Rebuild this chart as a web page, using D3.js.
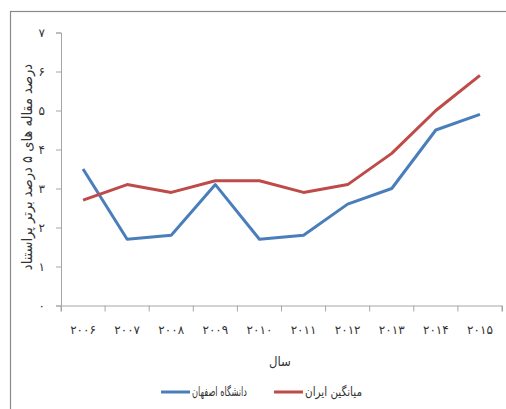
<!DOCTYPE html>
<html><head><meta charset="utf-8">
<script src="https://cdn.jsdelivr.net/npm/d3@7"></script>
<style>
html,body{margin:0;padding:0;background:#fff;}
text{font-family:"Liberation Sans","DejaVu Sans",sans-serif;fill:#333;}
.fa{font-family:"DejaVu Sans Condensed","DejaVu Sans",sans-serif;}
</style></head>
<body><svg id="c" width="506" height="409"></svg>
<script>
const years = ["2006","2007","2008","2009","2010","2011","2012","2013","2014","2015"];
const isfahan = [3.5,1.7,1.8,3.1,1.7,1.8,2.6,3.0,4.5,4.9];
const iranAvg = [2.7,3.1,2.9,3.2,3.2,2.9,3.1,3.9,5.0,5.9];
const yTicks = [0,1,2,3,4,5,6,7];
const seriesNames = ["دانشگاه اصفهان","میانگین ایران"];
const seriesColors = ["#4a7ebb","#be4b48"];
const yTitle = "درصد مقاله های ۵ درصد برتر پراستناد";
const xTitle = "سال";

const fa = s => String(s).replace(/[0-9]/g, d => "۰۱۲۳۴۵۶۷۸۹"[d]);

const svg = d3.select("#c");
svg.append("rect").attr("x",10.5).attr("y",11.5).attr("width",520).attr("height",420)
  .attr("fill","none").attr("stroke","#8a8a8a").attr("stroke-width",1.2);

const x = d3.scaleBand().domain(years).range([61,502]);
const y = d3.scaleLinear().domain([0,7]).range([305.5,32.5]);

// y axis
const ya = svg.append("g").attr("transform","translate(61,0)")
  .call(d3.axisLeft(y).tickValues(yTicks).tickSize(5).tickPadding(11).tickFormat(fa));
ya.select(".domain").attr("stroke","#a6a6a6");
ya.selectAll(".tick line").attr("stroke","#a6a6a6");
ya.selectAll("text").attr("font-size",12).style("fill","#333");

// x axis
const xa = svg.append("g").attr("transform","translate(0,305.5)")
  .call(d3.axisBottom(x).tickSize(6).tickPadding(14).tickFormat(fa));
xa.select(".domain").attr("stroke","#a6a6a6");
xa.selectAll(".tick line").attr("stroke","#a6a6a6").attr("transform",`translate(${-x.bandwidth()/2},0)`);
xa.append("line").attr("x1",502).attr("x2",502).attr("y1",0).attr("y2",6).attr("stroke","#a6a6a6");
xa.selectAll("text").attr("font-size",12).style("fill","#333");

const line = d3.line().x((d,i)=>x(years[i])+x.bandwidth()/2).y(d=>y(d));
[isfahan, iranAvg].forEach((s,i)=>{
  svg.append("path").datum(s).attr("d",line).attr("fill","none")
    .attr("stroke",seriesColors[i]).attr("stroke-width",3).attr("stroke-linejoin","round");
});

svg.append("text").attr("class","fa").attr("transform","translate(28,167) rotate(-90)")
  .attr("text-anchor","middle").attr("dominant-baseline","middle").attr("font-size",14.5).text(yTitle);
svg.append("text").attr("class","fa").attr("x",280).attr("y",362).attr("text-anchor","middle")
  .attr("dominant-baseline","middle").attr("font-size",13).text(xTitle);

// legend
const legX = [161, 274];
const legW = [55, 57];
seriesNames.forEach((n,i)=>{
  svg.append("line").attr("x1",legX[i]).attr("x2",legX[i]+29).attr("y1",392).attr("y2",392)
    .attr("stroke",seriesColors[i]).attr("stroke-width",3);
  svg.append("text").attr("class","fa").attr("x",legX[i]+31).attr("y",392).attr("dominant-baseline","middle")
    .attr("direction","ltr").attr("text-anchor","start").attr("font-size",12.5)
    .attr("textLength",legW[i]).attr("lengthAdjust","spacingAndGlyphs").text(n);
});
</script></body></html>
